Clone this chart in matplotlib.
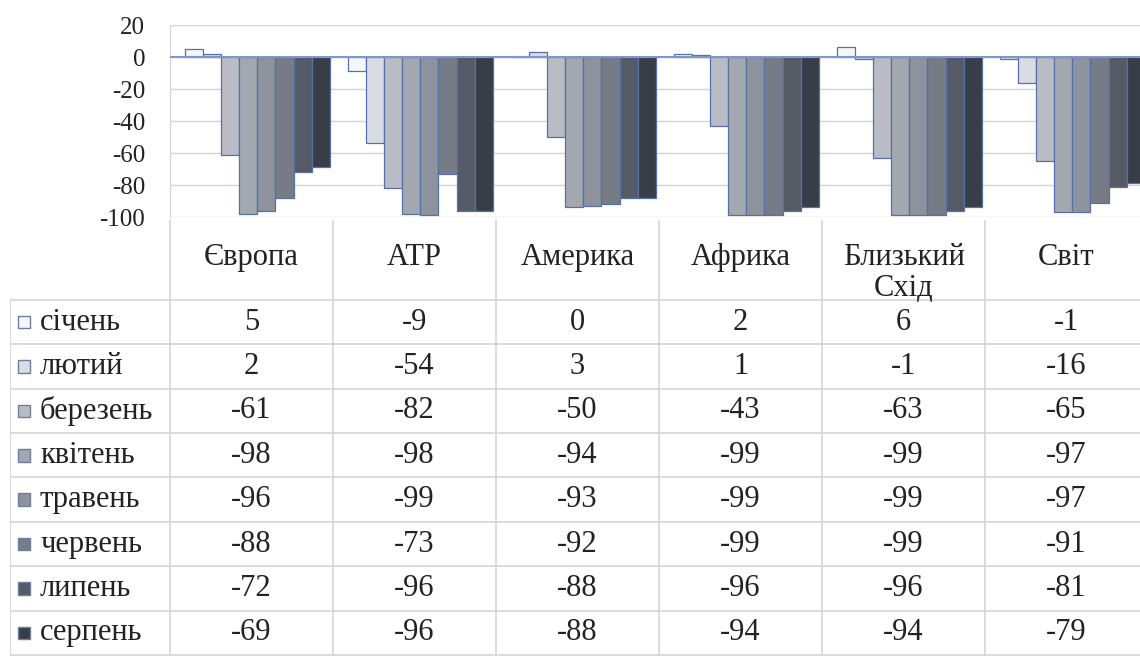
import matplotlib
matplotlib.use('Agg')
import matplotlib.pyplot as plt
from matplotlib.patches import Rectangle

regions = ['Європа', 'АТР', 'Америка', 'Африка', 'Близький\nСхід', 'Світ']
months = ['січень', 'лютий', 'березень', 'квітень', 'травень', 'червень', 'липень', 'серпень']
# values[month][region]
values = [
    [5, -9, 0, 2, 6, -1],
    [2, -54, 3, 1, -1, -16],
    [-61, -82, -50, -43, -63, -65],
    [-98, -98, -94, -99, -99, -97],
    [-96, -99, -93, -99, -99, -97],
    [-88, -73, -92, -99, -99, -91],
    [-72, -96, -88, -96, -96, -81],
    [-69, -96, -88, -94, -94, -79],
]
yticks = [20, 0, -20, -40, -60, -80, -100]

colors = ['#f5f6f9', '#d9dce3', '#b9bcc4', '#a3a7b0', '#8e929c', '#777b86', '#565a65', '#393d48']
edge = '#5571a8'
grid = '#d4d4d4'
plt.rcParams['font.family'] = ['Liberation Serif', 'DejaVu Serif']
txtc = '#222222'

W, H = 1140, 664
fig = plt.figure(figsize=(W / 100, H / 100), dpi=100)

# chart area
col_w = 163.0
left_px, right_px = 170, 170 + 6 * col_w
ax = fig.add_axes([left_px / W, 1 - 217 / H, (right_px - left_px) / W, 192 / H])
ax.set_xlim(-0.5, 5.5)
ax.set_ylim(-100, 20)
bw = 0.111
for j, m in enumerate(months):
    xs = [i - 0.408 + bw * j + bw / 2 for i in range(len(regions))]
    ax.bar(xs, values[j], width=bw, color=colors[j], edgecolor=edge, linewidth=0.9, zorder=3)
ax.set_yticks(yticks)
ax.set_yticklabels([str(t) for t in yticks], fontsize=18, color=txtc)
ax.tick_params(axis='y', length=0, pad=18)
ax.set_xticks([])
for t in yticks:
    ax.axhline(t, color=grid, lw=1, zorder=1)
for s in ['top', 'right', 'bottom']:
    ax.spines[s].set_visible(False)
ax.spines['left'].set_color(grid)
ax.axhline(0, color='#7f97c8', lw=1.5, zorder=4)

# data table
lab_w = 160 / col_w
hdr = 83 / 44.4
tax = fig.add_axes([10 / W, 1 - 664 / H, (right_px - 10) / W, (664 - 217) / H])
tax.set_xlim(-0.5 - lab_w, 5.5)
nrows = len(months)
ybot = hdr + nrows + 9 / 44.4
tax.set_ylim(ybot, 0)
tax.axis('off')

for r in range(nrows + 1):
    tax.plot([-0.5 - lab_w, 5.5], [hdr + r, hdr + r], color=grid, lw=1.2)
tax.plot([-0.5 - lab_w, -0.5 - lab_w], [hdr, hdr + nrows], color=grid, lw=1.2)
for i in range(len(regions) + 1):
    tax.plot([i - 0.5, i - 0.5], [0.1, hdr + nrows], color=grid, lw=1.2)

for i, reg in enumerate(regions):
    for k, line in enumerate(reg.split('\n')):
        tax.text(i, 0.92 + 0.7 * k, line, ha='center', va='center', fontsize=22, color=txtc)

for r, m in enumerate(months):
    yc = hdr + r + 0.5
    sq = 12 / col_w
    tax.add_patch(Rectangle((-0.5 - lab_w + 8 / col_w, yc - 0.14), sq, 0.28,
                            facecolor=colors[r], edgecolor='#6d7f9f', lw=1))
    tax.text(-0.5 - lab_w + 30 / col_w, yc, m, ha='left', va='center', fontsize=22, color=txtc)
    for i in range(len(regions)):
        tax.text(i, yc, str(values[r][i]), ha='center', va='center', fontsize=22, color=txtc)

fig.savefig('out.png', dpi=100)
